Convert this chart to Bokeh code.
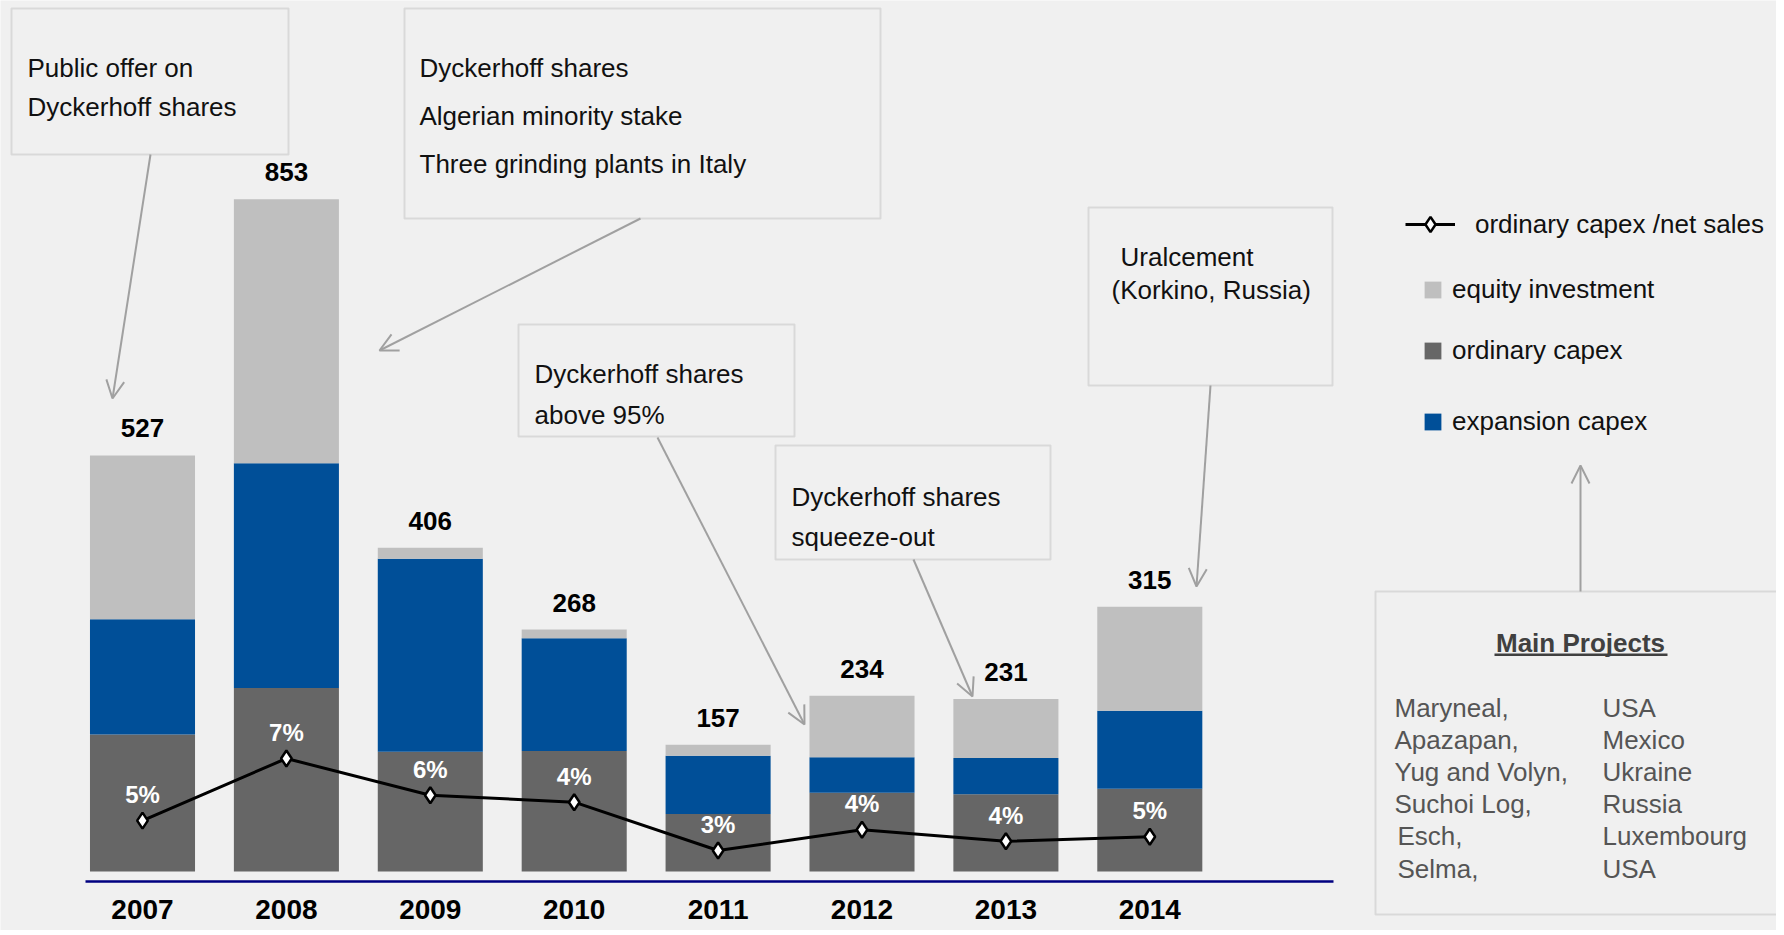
import numpy as np
from bokeh.plotting import figure
from bokeh.models import (ColumnDataSource, Range1d, LinearAxis, FixedTicker,
                          BoxAnnotation, Label, Arrow, OpenHead, Legend, LegendItem)
from bokeh.core.properties import value
from bokeh.embed import file_html
from bokeh.resources import INLINE

# ---------------- data ----------------
years = ["2007", "2008", "2009", "2010", "2011", "2012", "2013", "2014"]
ordinary_capex = [174, 233, 152, 153, 73, 100, 98, 105]
expansion_capex = [146, 285, 245, 143, 74, 45, 46, 99]
equity_investment = [208, 335, 14, 11, 14, 78, 75, 132]
total_labels = ["527", "853", "406", "268", "157", "234", "231", "315"]
capex_ratio = [4.3, 7.0, 5.4, 5.1, 3.0, 3.9, 3.4, 3.6]
ratio_labels = ["5%", "7%", "6%", "4%", "3%", "4%", "4%", "5%"]

projects = ["Maryneal,", "Apazapan,", "Yug and Volyn,", "Suchoi Log,", "Esch,", "Selma,"]
project_countries = ["USA", "Mexico", "Ukraine", "Russia", "Luxembourg", "USA"]

box_texts = [
    ["Public offer on", "Dyckerhoff shares"],
    ["Dyckerhoff shares", "Algerian minority stake", "Three grinding plants in Italy"],
    ["Dyckerhoff shares", "above 95%"],
    ["Dyckerhoff shares", "squeeze-out"],
    ["Uralcement", "(Korkino, Russia)"],
]

# ---------------- styles ----------------
FONT = "Liberation Sans"
BG = "#F0F0F0"
C_EQUITY = "#BFBFBF"
C_ORD = "#666666"
C_EXP = "#004F98"
C_BORDER = "#A6A6A6"
C_ARROW = "#A0A0A0"

W, H = 1776, 930


def sx(X):
    return X


def sy(Y):
    return H - Y


xs = list(range(len(years)))
totals = [o + e + q for o, e, q in zip(ordinary_capex, expansion_capex, equity_investment)]
src = ColumnDataSource(dict(x=xs, ordinary=ordinary_capex, expansion=expansion_capex,
                            equity=equity_investment, total=totals, total_label=total_labels,
                            ratio=capex_ratio, ratio_label=ratio_labels))

PX_X = 143.9   # px per category step
PX_Y = 0.788   # px per capex unit
PX_R = 23.0    # px per ratio percent
x0 = -142 / PX_X
p = figure(width=W, height=H, output_backend="svg", toolbar_location=None,
           x_range=Range1d(x0, x0 + W / PX_X),
           y_range=Range1d(-(H - 871) / PX_Y, 871 / PX_Y),
           x_axis_location=None, y_axis_location=None, min_border=0,
           background_fill_color=BG, border_fill_color=BG, outline_line_color=None)
p.grid.visible = False
p.extra_y_ranges = {"ratio": Range1d(-(H - 919) / PX_R, 919 / PX_R)}

bars = p.vbar_stack(["ordinary", "expansion", "equity"], x="x", width=0.73, source=src,
                    color=[C_ORD, C_EXP, C_EQUITY], line_color=None)

p.text(x="x", y="total", text="total_label", source=src, text_font=value(FONT),
       text_font_style="bold", text_font_size="26px", text_align="center",
       text_baseline="middle", y_offset=-27, text_color="#000000")

ln = p.line(x="x", y="ratio", source=src, y_range_name="ratio", line_color="black", line_width=3)
mk = p.scatter(x="x", y="ratio", source=src, y_range_name="ratio", marker="diamond",
               size=16, fill_color="white", line_color="black", line_width=2.5)
p.text(x="x", y="ratio", text="ratio_label", source=src, y_range_name="ratio",
       text_font=value(FONT), text_font_style="bold", text_font_size="24px",
       text_align="center", text_baseline="middle", y_offset=-26, text_color="white")

xaxis = LinearAxis(ticker=FixedTicker(ticks=xs),
                   major_label_overrides={i: y for i, y in zip(xs, years)},
                   fixed_location=-10 / PX_Y,
                   bounds=(x0 + 85 / PX_X, x0 + 1333 / PX_X))
xaxis.axis_line_color = "#000080"
xaxis.axis_line_width = 2.5
xaxis.major_tick_line_color = None
xaxis.minor_tick_line_color = None
xaxis.major_label_text_font = FONT
xaxis.major_label_text_font_style = "bold"
xaxis.major_label_text_font_size = "28px"
xaxis.major_label_text_color = "#000000"
xaxis.major_label_standoff = 12
p.add_layout(xaxis, "below")

# ---------------- annotation boxes ----------------
boxes = [(11, 8, 288, 154), (404, 8, 880, 218), (518, 324, 794, 436),
         (775, 445, 1050, 559), (1088, 207, 1332, 385), (1375, 591, 1800, 914)]
for (l, t, r, b) in boxes:
    p.add_layout(BoxAnnotation(left=sx(l), right=sx(r), top=sy(t), bottom=sy(b),
                               left_units="screen", right_units="screen",
                               top_units="screen", bottom_units="screen",
                               fill_color=BG, fill_alpha=1.0,
                               line_color=C_BORDER, line_width=2))

text_pos = [
    [(27, 67), (27, 106)],
    [(419, 67), (419, 115), (419, 163)],
    [(534, 373), (534, 414)],
    [(791, 496), (791, 536)],
    [(1120, 256), (1111, 289)],
]
for lines, poss in zip(box_texts, text_pos):
    for t, (X, Y) in zip(lines, poss):
        p.add_layout(Label(x=sx(X), y=sy(Y), x_units="screen", y_units="screen", text=t,
                           text_font=FONT, text_font_size="26px", text_color="#111111",
                           text_baseline="middle", text_align="left"))

# Main projects
p.add_layout(Label(x=sx(1580), y=sy(642), x_units="screen", y_units="screen",
                   text="Main Projects", text_font=FONT, text_font_size="26px",
                   text_font_style="bold", text_color="#404040",
                   text_baseline="middle", text_align="center"))
p.add_layout(BoxAnnotation(left=sx(1494), right=sx(1667), top=sy(653), bottom=sy(655.5),
                           left_units="screen", right_units="screen",
                           top_units="screen", bottom_units="screen",
                           fill_color="#404040", fill_alpha=1.0, line_color=None))
for i, (pr, co) in enumerate(zip(projects, project_countries)):
    Y = 707 + i * 32.2
    p.add_layout(Label(x=sx(1394 + (3 if i >= 4 else 0)), y=sy(Y), x_units="screen",
                       y_units="screen", text=pr,
                       text_font=FONT, text_font_size="26px", text_color="#555555",
                       text_baseline="middle", text_align="left"))
    p.add_layout(Label(x=sx(1602), y=sy(Y), x_units="screen", y_units="screen", text=co,
                       text_font=FONT, text_font_size="26px", text_color="#555555",
                       text_baseline="middle", text_align="left"))

# arrows
arrows = [((150, 154), (112, 398)), ((640, 218), (379, 350)), ((657, 437), (804, 724)),
          ((913, 559), (972, 696)), ((1210, 385), (1196, 586)), ((1580, 591), (1580, 465))]
for (a, b) in arrows:
    p.add_layout(Arrow(x_start=sx(a[0]), y_start=sy(a[1]), x_end=sx(b[0]), y_end=sy(b[1]),
                       start_units="screen", end_units="screen",
                       line_color=C_ARROW, line_width=2,
                       end=OpenHead(size=18, line_color=C_ARROW, line_width=2)))

# ---------------- legends ----------------
legend_specs = [
    ("ordinary capex /net sales", [ln, mk], 224, 1405, 50, 38, 20),
    ("equity investment", [bars[2]], 290, 1422, 21, 21, 9),
    ("ordinary capex", [bars[0]], 351, 1422, 21, 21, 9),
    ("expansion capex", [bars[1]], 422, 1422, 21, 21, 9),
]
for label, rends, Yc, Xl, gw, gh, so in legend_specs:
    hh = max(30, gh)
    lg = Legend(items=[LegendItem(label=label, renderers=rends)],
                location=(sx(Xl), sy(Yc + hh / 2)), orientation="vertical",
                glyph_width=gw, glyph_height=gh, label_height=30, label_standoff=so,
                padding=0, margin=0, spacing=0,
                label_text_font=FONT, label_text_font_size="26px",
                label_text_color="#111111", label_text_baseline="middle",
                border_line_color=None, background_fill_alpha=0)
    p.add_layout(lg)

open("out.html", "w").write(file_html(p, INLINE))
